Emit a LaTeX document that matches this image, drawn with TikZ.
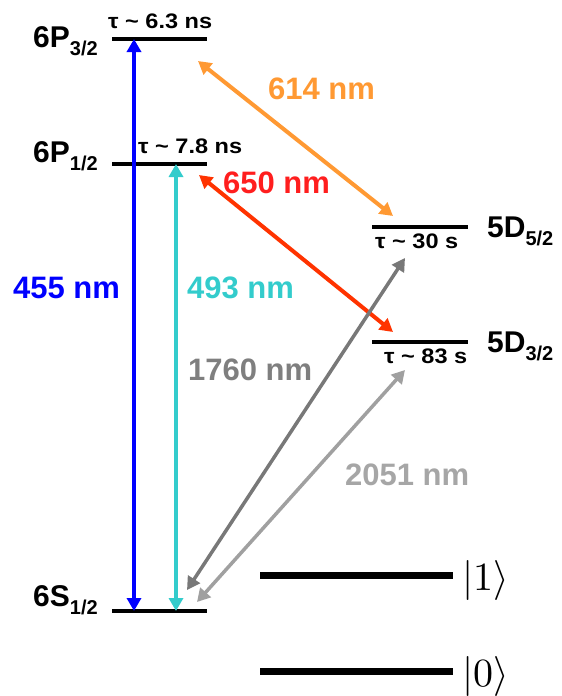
\documentclass[tikz,border=0pt]{standalone}
\usepackage{fontspec}
\usepackage{unicode-math}
\setmainfont{Liberation Sans}
\setmathfont{Latin Modern Math}
\newfontfamily\taufont[FakeStretch=1.12]{Liberation Sans}
\usetikzlibrary{arrows.meta}
\definecolor{c455}{RGB}{0,0,255}
\definecolor{c493}{RGB}{51,204,204}
\definecolor{c614}{RGB}{255,153,51}
\definecolor{c650}{RGB}{255,51,0}
\definecolor{l650}{RGB}{255,30,30}
\definecolor{c1760}{RGB}{120,120,120}
\definecolor{l1760}{RGB}{127,127,127}
\definecolor{c2051}{RGB}{160,160,160}
\definecolor{l2051}{RGB}{166,166,166}
\newcommand\lvsub[1]{\raisebox{-8pt}{\fontsize{20}{20}\selectfont #1}}
\tikzset{
  level/.style={line width=4pt, black},
  qlevel/.style={line width=7pt, black},
  trans/.style={line width=4pt, {Triangle[length=13pt,width=14pt]}-{Triangle[length=13pt,width=14pt]}},
  wl/.style={font=\fontsize{31}{31}\selectfont\bfseries, inner sep=0pt, anchor=base west},
  lt/.style={font=\taufont\fontsize{21}{21}\selectfont\bfseries, inner sep=0pt, anchor=base west},
  lv/.style={font=\fontsize{30}{30}\selectfont\bfseries, inner sep=0pt, anchor=base west},
  ket/.style={font=\fontsize{40}{40}\selectfont, inner sep=0pt, anchor=west}
}
\begin{document}
\begin{tikzpicture}[x=1pt,y=-1pt]
\useasboundingbox (0,0) rectangle (562,696);
% level lines
\coordinate (p3L) at (112,39);  \coordinate (p3R) at (207,39);
\coordinate (p1L) at (112,164); \coordinate (p1R) at (207,164);
\coordinate (d5L) at (372,227); \coordinate (d5R) at (468,227);
\coordinate (d3L) at (372,342); \coordinate (d3R) at (468,342);
\coordinate (sL) at (112,611);  \coordinate (sR) at (207,611);
\coordinate (q1L) at (260,575); \coordinate (q1R) at (453,575);
\coordinate (q0L) at (260,671); \coordinate (q0R) at (453,671);
\draw[level] (p3L) -- (p3R);
\draw[level] (p1L) -- (p1R);
\draw[level] (d5L) -- (d5R);
\draw[level] (d3L) -- (d3R);
\draw[level] (sL) -- (sR);
\draw[qlevel] (q1L) -- (q1R);
\draw[qlevel] (q0L) -- (q0R);
% level labels
\node[lv] (n6p3) at (33,47) {6P\lvsub{3/2}};
\node[lv] (n6p1) at (33,162) {6P\lvsub{1/2}};
\node[lv] (n5d5) at (487,237) {5D\lvsub{5/2}};
\node[lv] (n5d3) at (487,352) {5D\lvsub{3/2}};
\node[lv] (n6s) at (33,606) {6S\lvsub{1/2}};
% lifetimes
\node[lt] (t1) at (108,28) {τ \char`\~{} 6.3 ns};
\node[lt] (t2) at (138,153) {τ \char`\~{} 7.8 ns};
\node[lt] (t3) at (375,248) {τ \char`\~{} 30 s};
\node[lt] (t4) at (384,363) {τ \char`\~{} 83 s};
% kets
\node[ket] (k1) at (462,580) {$|1\rangle$};
\node[ket] (k0) at (462,676) {$|0\rangle$};
% transition endpoints
\coordinate (bA) at (134,611); \coordinate (bB) at (134,39);
\coordinate (cA) at (176,611); \coordinate (cB) at (176,164);
\coordinate (oA) at (198,61);  \coordinate (oB) at (393,216);
\coordinate (rA) at (199,175); \coordinate (rB) at (393,332);
\coordinate (gA) at (187,590); \coordinate (gB) at (405,258);
\coordinate (hA) at (197,602); \coordinate (hB) at (405,370);
\draw[trans, c455] (bA) -- (bB);
\draw[trans, c493] (cA) -- (cB);
\draw[trans, c614] (oA) -- (oB);
\draw[trans, c650] (rA) -- (rB);
\draw[trans, c1760, line width=3.5pt] (gA) -- (gB);
\draw[trans, c2051, line width=3.5pt] (hA) -- (hB);
% wavelength labels
\node[wl, text=c455] (w455) at (13,298) {455 nm};
\node[wl, text=c493] (w493) at (187,298) {493 nm};
\node[wl, text=c614] (w614) at (268,99) {614 nm};
\node[wl, text=l650] (w650) at (223,193) {650 nm};
\node[wl, text=l1760] (w1760) at (188,380) {1760 nm};
\node[wl, text=l2051] (w2051) at (345,485) {2051 nm};
\end{tikzpicture}
\end{document}
